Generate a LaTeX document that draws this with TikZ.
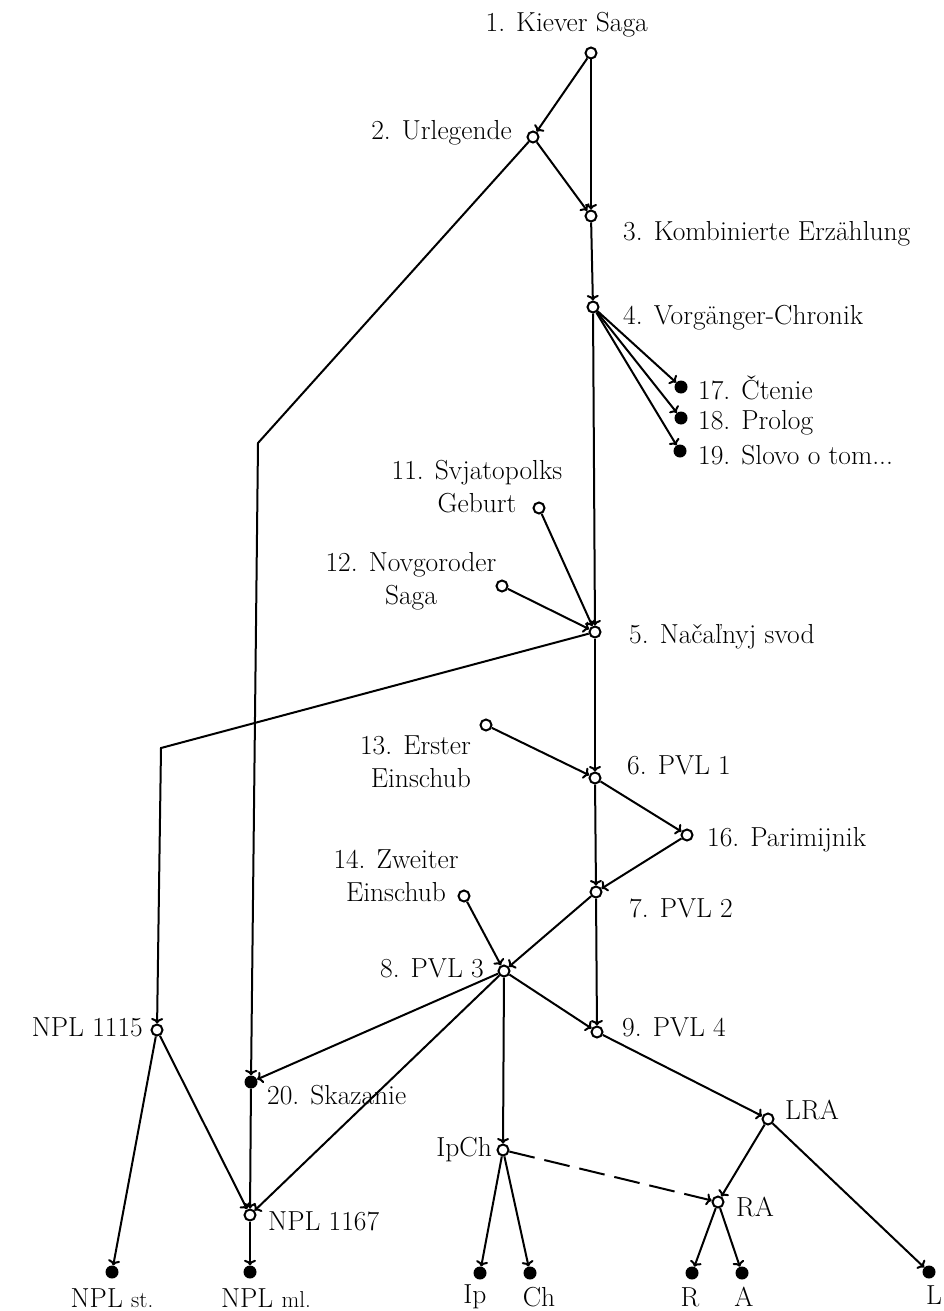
\documentclass[tikz,border=0pt]{standalone}
\usepackage{fontspec}
\usetikzlibrary{arrows.meta}
\begin{document}
\begin{tikzpicture}[x=1pt,y=-1pt,
  oc/.style={circle,draw,fill=white,line width=2pt,inner sep=0pt,minimum size=11pt},
  fc/.style={circle,fill=black,inner sep=0pt,minimum size=13pt},
  lbl/.style={inner sep=0pt,font=\fontsize{27.5}{33}\selectfont},
  ed/.style={line width=2pt,-{To[length=5.5pt,width=12pt]}},
  dsh/.style={ed,dash pattern=on 26pt off 10pt}
]
\useasboundingbox (0,0) rectangle (944,1311);
% nodes
\node[oc] (n1) at (591,53) {};
\node[lbl,anchor=east] (l1) at (648,25) {1. Kiever Saga};
\node[oc] (n2) at (533,137) {};
\node[lbl,anchor=east] (l2) at (512,133) {2. Urlegende};
\node[oc] (n3) at (591,216) {};
\node[lbl,anchor=west] (l3) at (623,234) {3. Kombinierte Erzählung};
\node[oc] (n4) at (593,307) {};
\node[lbl,anchor=west] (l4) at (623,318) {4. Vorgänger-Chronik};
\node[fc] (n17) at (681,387) {};
\node[lbl,anchor=west] (l17) at (698,388) {17. Čtenie};
\node[fc] (n18) at (681,418) {};
\node[lbl,anchor=west] (l18) at (698,423) {18. Prolog};
\node[fc] (n19) at (680,451) {};
\node[lbl,anchor=west] (l19) at (698,455) {19. Slovo o tom...};
\node[oc] (n11) at (539,508) {};
\node[lbl,align=center] (l11) at (477,487) {11. Svjatopolks\\Geburt};
\node[oc] (n12) at (502,586) {};
\node[lbl,align=center] (l12) at (411,581) {12. Novgoroder\\Saga};
\node[oc] (n5) at (595,632) {};
\node[lbl,anchor=west] (l5) at (629,637) {5. Načaľnyj svod};
\coordinate (bA) at (258,443);
\coordinate (bB) at (161,748);
\node[oc] (n13) at (486,725) {};
\node[lbl,anchor=east,align=right] (l13) at (471,762) {13. Erster\\Einschub};
\node[oc] (n6) at (595,778) {};
\node[lbl,anchor=west] (l6) at (627,765) {6. PVL 1};
\node[oc] (n16) at (687,835) {};
\node[lbl,anchor=west] (l16) at (707,840) {16. Parimijnik};
\node[oc] (n7) at (596,892) {};
\node[lbl,anchor=west] (l7) at (629,908) {7. PVL 2};
\node[oc] (n14) at (464,896) {};
\node[lbl,align=center] (l14) at (396,876) {14. Zweiter\\Einschub};
\node[oc] (n8) at (504,971) {};
\node[lbl,anchor=east] (l8) at (484,968) {8. PVL 3};
\node[oc] (n9) at (597,1032) {};
\node[lbl,anchor=west] (l9) at (622,1027) {9. PVL 4};
\node[oc] (n1115) at (157,1030) {};
\node[lbl,anchor=east] (l1115) at (143,1027) {NPL 1115};
\node[fc] (n20) at (251,1082) {};
\node[lbl,anchor=west] (l20) at (267,1095) {20. Skazanie};
\node[oc] (n1167) at (250,1215) {};
\node[lbl,anchor=west] (l1167) at (268,1221) {NPL 1167};
\node[fc] (nst) at (112,1272) {};
\node[lbl] (lst) at (112,1298) {NPL {\fontsize{23}{26}\selectfont st.}};
\node[fc] (nml) at (250,1272) {};
\node[lbl] (lml) at (266,1298) {NPL {\fontsize{23}{26}\selectfont ml.}};
\node[oc] (nipch) at (503,1150) {};
\node[lbl,anchor=east] (lipch) at (492,1150) {IpCh};
\node[fc] (nip) at (480,1273) {};
\node[lbl] (lip) at (475,1297) {Ip};
\node[fc] (nch) at (530,1273) {};
\node[lbl] (lch) at (539,1297) {Ch};
\node[oc] (nlra) at (768,1119) {};
\node[lbl,anchor=west] (llra) at (785,1110) {LRA};
\node[oc] (nra) at (718,1202) {};
\node[lbl,anchor=west] (lra) at (736,1207) {RA};
\node[fc] (nr) at (692,1273) {};
\node[lbl] (lr) at (690,1297) {R};
\node[fc] (na) at (742,1273) {};
\node[lbl] (la) at (744,1297) {A};
\node[fc] (nl) at (929,1272) {};
\node[lbl] (ll) at (934,1295) {L};
% edges
\draw[ed] (n1) -- (n2);
\draw[ed] (n1) -- (n3);
\draw[ed] (n2) -- (n3);
\draw[ed] (n3) -- (n4);
\draw[ed] (n4) -- (n17);
\draw[ed] (n4) -- (n18);
\draw[ed] (n4) -- (n19);
\draw[ed] (n4) -- (n5);
\draw[ed] (n11) -- (n5);
\draw[ed] (n12) -- (n5);
\draw[ed] (n2) -- (bA) -- (n20);
\draw[ed] (n5) -- (bB) -- (n1115);
\draw[ed] (n5) -- (n6);
\draw[ed] (n13) -- (n6);
\draw[ed] (n6) -- (n16);
\draw[ed] (n6) -- (n7);
\draw[ed] (n16) -- (n7);
\draw[ed] (n7) -- (n9);
\draw[ed] (n7) -- (n8);
\draw[ed] (n14) -- (n8);
\draw[ed] (n8) -- (n9);
\draw[ed] (n8) -- (n20);
\draw[ed] (n8) -- (n1167);
\draw[ed] (n8) -- (nipch);
\draw[ed] (n9) -- (nlra);
\draw[ed] (nlra) -- (nra);
\draw[ed] (nlra) -- (nl);
\draw[dsh] (nipch) -- (nra);
\draw[ed] (nipch) -- (nip);
\draw[ed] (nipch) -- (nch);
\draw[ed] (nra) -- (nr);
\draw[ed] (nra) -- (na);
\draw[ed] (n1115) -- (nst);
\draw[ed] (n1115) -- (n1167);
\draw[ed] (n20) -- (n1167);
\draw[ed] (n1167) -- (nml);
\end{tikzpicture}
\end{document}
